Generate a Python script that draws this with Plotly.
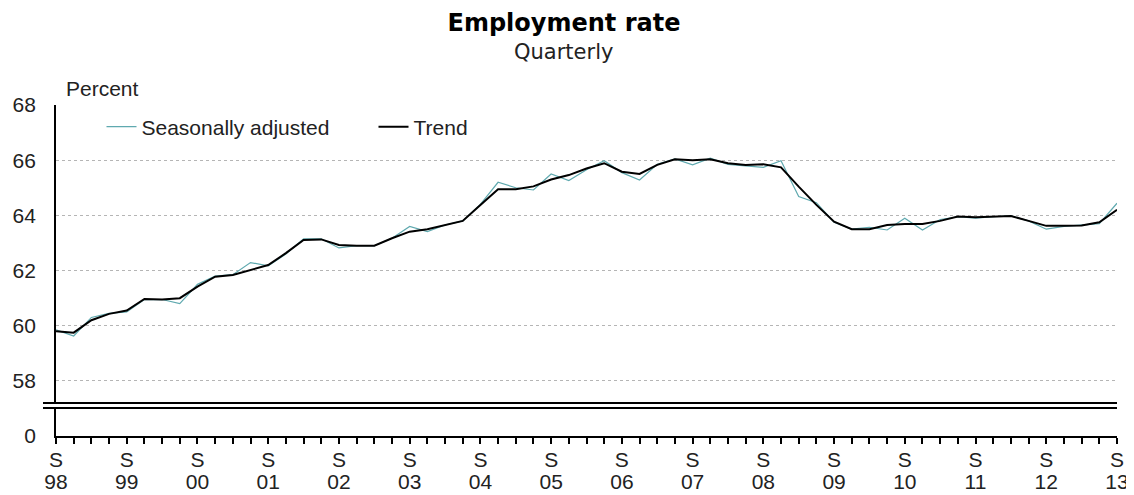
import plotly.graph_objects as go

# ---- data (quarterly, first point = S 98) ----
seasonally_adjusted = [
    59.85, 59.63, 60.30, 60.45, 60.50, 60.95, 60.95, 60.80, 61.50, 61.80,
    61.85, 62.29, 62.17, 62.60, 63.15, 63.15, 62.82, 62.90, 62.90, 63.17,
    63.60, 63.41, 63.65, 63.80, 64.40, 65.20, 65.00, 64.92, 65.50, 65.26,
    65.65, 65.98, 65.55, 65.28, 65.85, 66.05, 65.83, 66.07, 65.85, 65.80,
    65.74, 65.98, 64.68, 64.46, 63.75, 63.50, 63.57, 63.47, 63.90, 63.47,
    63.85, 63.95, 63.90, 63.95, 63.98, 63.80, 63.50, 63.60, 63.65, 63.70,
    64.44,
]
trend = [
    59.80, 59.75, 60.20, 60.43, 60.55, 60.97, 60.95, 61.00, 61.42, 61.78,
    61.84, 62.02, 62.20, 62.63, 63.11, 63.13, 62.93, 62.90, 62.90, 63.17,
    63.41, 63.50, 63.65, 63.80, 64.38, 64.95, 64.95, 65.05, 65.30, 65.46,
    65.70, 65.89, 65.58, 65.50, 65.83, 66.03, 66.00, 66.03, 65.89, 65.83,
    65.85, 65.74, 65.04, 64.38, 63.77, 63.50, 63.50, 63.65, 63.69, 63.69,
    63.80, 63.96, 63.93, 63.95, 63.98, 63.80, 63.62, 63.62, 63.63, 63.75,
    64.20,
]
quarter_labels = ["S"] * 16
year_labels = ["98", "99", "00", "01", "02", "03", "04", "05",
               "06", "07", "08", "09", "10", "11", "12", "13"]
y_ticks = [58, 60, 62, 64, 66, 68]

quarter_index = list(range(len(trend)))
label_pos = quarter_index[::4]

FONT = "Liberation Sans, Arial, sans-serif"
TFONT = "DejaVu Sans, Verdana, sans-serif"

# Page places the figure at an 8px body offset; geometry below is in
# screen pixels and converted to figure pixels.
OFF = 8
SCR_W, SCR_H = 1134, 495
W, H = SCR_W - OFF, SCR_H - OFF
plot_left, plot_right, plot_top, plot_bottom = 56, 1117, 105, 436
L = plot_left - OFF
R = W - (plot_right - OFF)
T = plot_top - OFF
B = H - (plot_bottom - OFF)
plot_w = plot_right - plot_left
plot_h = plot_bottom - plot_top


def px(xs):
    return (xs - plot_left) / plot_w


def py(ys):
    return (plot_bottom - ys) / plot_h


upper_bottom = py(403)
lower_top = py(408)

fig = go.Figure()
fig.add_trace(go.Scatter(
    x=quarter_index, y=seasonally_adjusted, mode="lines",
    name="Seasonally adjusted",
    line=dict(color="#5FA9AF", width=1.2),
    xaxis="x", yaxis="y",
))
fig.add_trace(go.Scatter(
    x=quarter_index, y=trend, mode="lines", name="Trend",
    line=dict(color="#000000", width=2),
    xaxis="x", yaxis="y",
))
# empty traces so the lower (zero) panel and the year-label axis are drawn
fig.add_trace(go.Scatter(x=[], y=[], xaxis="x", yaxis="y2",
                         showlegend=False, hoverinfo="skip"))
fig.add_trace(go.Scatter(x=[], y=[], xaxis="x2", yaxis="y2",
                         showlegend=False, hoverinfo="skip"))

tick_font = dict(family=FONT, size=21, color="#222222")

fig.update_layout(
    width=W, height=H,
    margin=dict(l=L, r=R, t=T, b=B, pad=0, autoexpand=False),
    paper_bgcolor="white", plot_bgcolor="white",
    font=dict(family=FONT, size=21, color="#222222"),
    title=dict(text="<b>Employment rate</b>", x=(564 - OFF) / W, xanchor="center",
               y=1 - (23 - OFF) / H, yanchor="middle", yref="container",
               font=dict(family=TFONT, size=24, color="#000000")),
    showlegend=True,
    legend=dict(orientation="h", x=px(101.5), xanchor="left",
                y=py(127), yanchor="middle",
                font=dict(family=FONT, size=21, color="#222222"),
                entrywidth=227, entrywidthmode="pixels",
                bgcolor="rgba(0,0,0,0)", borderwidth=0,
                itemclick=False, itemdoubleclick=False),
    xaxis=dict(
        anchor="y2", range=[0, 60], domain=[0, 1], automargin=False,
        tickmode="array", tickvals=label_pos, ticktext=quarter_labels,
        ticks="outside", ticklen=6, tickwidth=1.5, tickcolor="#000000",
        minor=dict(dtick=1, ticks="outside", ticklen=6, tickwidth=1.5,
                   tickcolor="#000000", showgrid=False),
        showline=True, linecolor="#000000", linewidth=1.8,
        showgrid=False, zeroline=False, ticklabelstandoff=-2,
        tickfont=tick_font,
    ),
    xaxis2=dict(
        anchor="y2", overlaying="x", matches="x", side="bottom",
        range=[0, 60], domain=[0, 1], automargin=False,
        tickmode="array", tickvals=label_pos, ticktext=year_labels,
        ticks="", showline=False, showgrid=False, zeroline=False,
        ticklabelstandoff=31, tickfont=tick_font,
    ),
    yaxis=dict(
        domain=[upper_bottom, 1], anchor="x", range=[57.2, 68], automargin=False,
        tickmode="array", tickvals=y_ticks,
        showline=True, linecolor="#000000", linewidth=1.8,
        showgrid=True, gridcolor="#b5b5b5", griddash="dot", gridwidth=1,
        zeroline=False, ticks="", ticklabelstandoff=14,
        tickfont=tick_font,
    ),
    yaxis2=dict(
        domain=[0, lower_top], anchor="x", range=[0, 1], automargin=False,
        tickmode="array", tickvals=[0],
        showline=True, linecolor="#000000", linewidth=1.8,
        showgrid=False, zeroline=False, ticks="", ticklabelstandoff=14,
        tickfont=tick_font,
    ),
    annotations=[
        dict(text="Quarterly", x=px(563), xanchor="center", xref="paper",
             y=py(52), yanchor="middle", yref="paper", showarrow=False,
             font=dict(family=TFONT, size=21, color="#222222")),
        dict(text="Percent", x=px(64), xanchor="left", xref="paper",
             y=py(88), yanchor="middle", yref="paper", showarrow=False,
             font=dict(family=FONT, size=21, color="#222222")),
    ],
    shapes=[
        dict(type="line", xref="paper", yref="paper",
             x0=px(43), x1=1, y0=upper_bottom, y1=upper_bottom,
             line=dict(color="#000000", width=1.8)),
        dict(type="line", xref="paper", yref="paper",
             x0=px(43), x1=1, y0=lower_top, y1=lower_top,
             line=dict(color="#000000", width=1.8)),
    ],
)

fig.write_html("out.html")
